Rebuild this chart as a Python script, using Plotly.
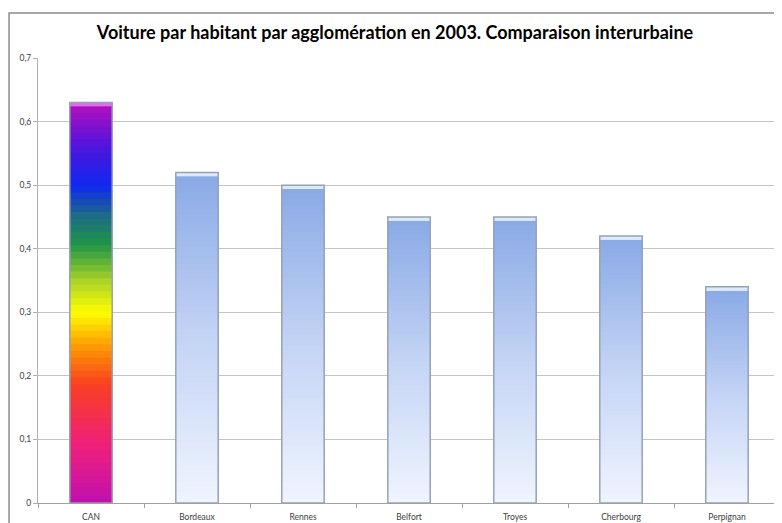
import plotly.graph_objects as go

villes = ['CAN', 'Bordeaux', 'Rennes', 'Belfort', 'Troyes', 'Cherbourg', 'Perpignan']
voitures = [0.63, 0.52, 0.50, 0.45, 0.45, 0.42, 0.34]
y_ticks = [0, 0.1, 0.2, 0.3, 0.4, 0.5, 0.6, 0.7]
y_labels = ['0', '0,1', '0,2', '0,3', '0,4', '0,5', '0,6', '0,7']

# colour stops (fraction of bar height, rgb) - bottom to top
rainbow = [(0.0, (192, 16, 176)), (0.15, (240, 32, 120)), (0.3, (248, 64, 32)),
           (0.4, (255, 160, 0)), (0.48, (255, 255, 0)), (0.56, (170, 210, 40)),
           (0.65, (32, 150, 70)), (0.72, (30, 110, 130)), (0.8, (16, 40, 240)),
           (0.9, (80, 20, 220)), (1.0, (176, 16, 192))]
bleu = [(0.0, (240, 245, 254)), (0.5, (196, 212, 245)), (1.0, (138, 170, 230))]


def interp(stops, t):
    for (t0, c0), (t1, c1) in zip(stops[:-1], stops[1:]):
        if t <= t1:
            f = (t - t0) / (t1 - t0) if t1 > t0 else 0
            c = [round(a + (b - a) * f) for a, b in zip(c0, c1)]
            return f'rgb({c[0]},{c[1]},{c[2]})'
    c = stops[-1][1]
    return f'rgb({c[0]},{c[1]},{c[2]})'


n = 60
xs, hs, bases, cols = [], [], [], []
for ville, v in zip(villes, voitures):
    stops = rainbow if ville == 'CAN' else bleu
    cap = 0.006
    body = v - cap
    for i in range(n):
        xs.append(ville)
        bases.append(body * i / n)
        # overlap the next slice so no seams show
        hs.append(min(body / n * 2.5, body - body * i / n))
        cols.append(interp(stops, (i + 0.5) / n))
    # lighter top cap
    xs.append(ville)
    bases.append(body)
    hs.append(cap)
    cols.append('rgb(225,110,230)' if ville == 'CAN' else 'rgb(222,234,251)')

fig = go.Figure()
fig.add_trace(go.Bar(x=xs, y=hs, base=bases, width=0.4,
                     marker=dict(color=cols, line=dict(width=0)),
                     hoverinfo='skip', showlegend=False))
fig.add_trace(go.Bar(x=villes, y=voitures, width=0.4,
                     marker=dict(color='rgba(0,0,0,0)',
                                 line=dict(color='#95a2b8', width=1.5)),
                     showlegend=False))

fig.add_shape(type='rect', xref='paper', yref='paper',
              x0=-0.039, x1=1.02, y0=-0.3, y1=1.101,
              line=dict(color='#8c8c8c', width=1.5), layer='below')

fig.update_layout(
    width=774, height=515,
    margin=dict(l=30, r=2, t=50, b=20),
    barmode='overlay', bargap=0.6,
    paper_bgcolor='white', plot_bgcolor='white',
    font=dict(family='Lato', color='#404040', size=9),
    title=dict(text='<b>Voiture par habitant par agglomération en 2003. Comparaison interurbaine</b>',
               x=0.5, xanchor='center', y=0.952, yanchor='middle',
               font=dict(family='Lato', size=18, color='black')),
    xaxis=dict(type='category', showgrid=False, showline=True, linecolor='#a0a0a0',
               ticks='outside', tickson='boundaries', ticklen=4, tickcolor='#a0a0a0',
               ticklabelstandoff=6, tickfont=dict(size=8.5), fixedrange=True),
    yaxis=dict(range=[0, 0.7], tickvals=y_ticks, ticktext=y_labels,
               showgrid=True, gridcolor='#c4c4c4', gridwidth=1,
               showline=True, linecolor='#b0b0b0', ticks='outside', ticklen=4,
               tickcolor='#b0b0b0', zeroline=False, tickfont=dict(size=8.5)),
)

fig.write_html('out.html')
